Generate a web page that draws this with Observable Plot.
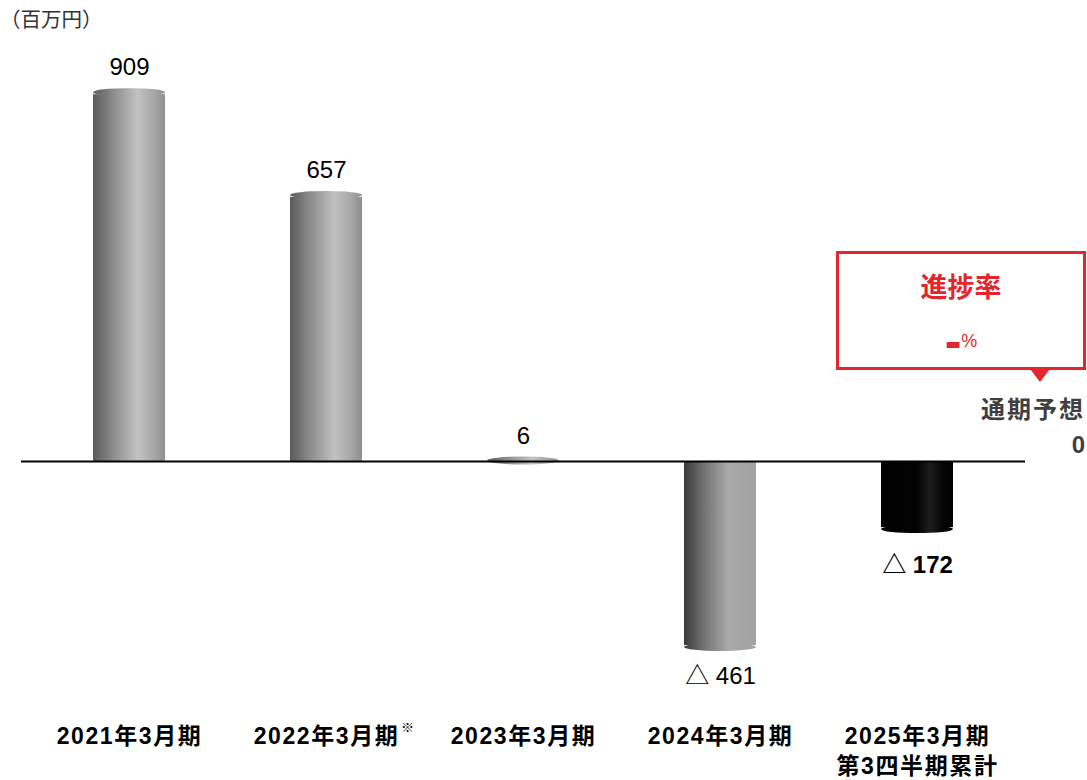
<!DOCTYPE html>
<html>
<head>
<meta charset="utf-8">
<script src="https://cdn.jsdelivr.net/npm/d3@7"></script>
<script src="https://cdn.jsdelivr.net/npm/@observablehq/plot@0.6"></script>
<style>
  html, body { margin: 0; padding: 0; background: #fff; overflow: hidden; }
  #wrap { position: relative; width: 1087px; height: 780px; }
  #wrap svg { display: block; }
  [aria-label="x-axis tick label"] text { letter-spacing: 1.6px; }
  .unit { position: absolute; left: 0px; top: 3px; font: 20.5px "Noto Sans CJK JP", sans-serif; color: #333; }
  .callout { position: absolute; left: 836px; top: 251px; width: 250px; height: 119px; box-sizing: border-box;
             border: 3px solid #e3262d; background: #fff; text-align: center; color: #e3262d; font-family: "Noto Sans CJK JP", sans-serif; }
  .callout .t1 { position: absolute; left: 0; right: 0; top: 18px; font-size: 27px; font-weight: bold; line-height: 1; }
  .callout .t2 { position: absolute; left: 0; right: 0; top: 58px; line-height: 1; }
  .callout .dash { font: bold 50px "Liberation Sans", sans-serif; vertical-align: middle; }
  .callout .pct { font: 18px "Liberation Sans", sans-serif; vertical-align: middle; }
  .pointer { position: absolute; left: 1030px; top: 369px; width: 0; height: 0;
             border-left: 10px solid transparent; border-right: 10px solid transparent; border-top: 13px solid #e3262d; }
  .forecast { position: absolute; right: 2px; top: 396px; text-align: right; font: bold 24px "Noto Sans CJK JP", sans-serif;
              color: #3f3f3f; letter-spacing: 2px; line-height: 1; }
  .forecast .val { position: absolute; right: -2px; top: 37px; font-family: "Liberation Sans", sans-serif; }
</style>
</head>
<body>
<div id="wrap"></div>
<script>
// ---- data ----
const periods = ["2021年3月期", "2022年3月期", "2023年3月期", "2024年3月期", "2025年3月期\n第3四半期累計"];
const profits = [909, 657, 6, -461, -172];
const unitLabel = "（百万円）";
const noteMark = "※";
const progressTitle = "進捗率";
const forecastTitle = "通期予想";
const forecastValue = 0;

const data = periods.map((p, i) => ({period: p, value: profits[i], current: i === periods.length - 1}));
const past = data.filter(d => !d.current);
const pastPos = past.filter(d => d.value >= 0);
const pastNeg = past.filter(d => d.value < 0);
const cur = data.filter(d => d.current);
const fmt = v => v < 0 ? "△ " + Math.abs(v) : String(v);

const plot = Plot.plot({
  width: 1087,
  height: 780,
  marginTop: 20,
  marginBottom: 80,
  marginLeft: 21,
  marginRight: 62,
  style: {fontFamily: "'Liberation Sans', 'Noto Sans CJK JP', sans-serif", fontSize: "24px", color: "#000", background: "transparent"},
  x: {domain: periods, paddingInner: 0.633, paddingOuter: 0.358, axis: null, label: null},
  y: {domain: [-586, 1081], axis: null},
  marks: [
    // bar bodies
    Plot.barY(pastPos, {x: "period", y: "value", fill: "url(#gPos)", insetTop: 4}),
    Plot.barY(pastNeg, {x: "period", y: "value", fill: "url(#gNeg)", insetBottom: 4}),
    Plot.barY(cur, {x: "period", y: "value", fill: "url(#gCur)", insetBottom: 4}),
    // elliptical cylinder ends
    Plot.barY(pastPos, {x: "period", y1: "value", y2: "value", fill: "url(#gPos)", insetTop: -2, insetBottom: -6, rx: 36, ry: 4}),
    Plot.barY(pastNeg, {x: "period", y1: "value", y2: "value", fill: "url(#gNeg)", insetTop: -6, insetBottom: -2, rx: 36, ry: 4}),
    Plot.barY(cur, {x: "period", y1: "value", y2: "value", fill: "url(#gCur)", insetTop: -6, insetBottom: -2, rx: 36, ry: 4}),
    // baseline
    Plot.ruleY([0], {stroke: "#000", strokeWidth: 2}),
    // value labels
    Plot.text(pastPos, {x: "period", y: "value", text: d => fmt(d.value), dy: -23, fontSize: 24}),
    Plot.text(pastNeg, {x: "period", y: "value", text: d => fmt(d.value), dy: 27, fontSize: 24}),
    Plot.text(cur, {x: "period", y: "value", text: d => fmt(d.value), dy: 34, fontSize: 24, fontWeight: "bold"}),
    // category axis
    Plot.axisX({anchor: "bottom", label: null, tickSize: 0, tickPadding: 22, fontSize: 23, fontWeight: "bold", lineHeight: 1.3,
                fontFamily: "'Liberation Sans', 'Noto Sans CJK JP', sans-serif"}),
    Plot.text([periods[1]], {x: d => d, frameAnchor: "bottom", dx: 81, dy: 31, text: () => noteMark, fontSize: 13})
  ]
});

const svg = d3.select(plot.tagName.toLowerCase() === "svg" ? plot : plot.querySelector("svg"));
const defs = svg.insert("defs", ":first-child");
function grad(id, stops) {
  const g = defs.append("linearGradient").attr("id", id).attr("x1", 0).attr("x2", 1).attr("y1", 0).attr("y2", 0);
  stops.forEach(([o, c]) => g.append("stop").attr("offset", o).attr("stop-color", c));
}
grad("gPos", [[0, "#5a5a5a"], [0.3, "#8f8f8f"], [0.62, "#c2c2c2"], [0.85, "#a6a6a6"], [1, "#8e8e8e"]]);
grad("gNeg", [[0, "#3a3a3a"], [0.3, "#777"], [0.62, "#aaa"], [1, "#a2a2a2"]]);
grad("gCur", [[0, "#000"], [0.5, "#030303"], [0.68, "#1d1d1d"], [0.85, "#060606"], [1, "#000"]]);

const wrap = document.getElementById("wrap");
wrap.appendChild(plot);

const unit = document.createElement("div");
unit.className = "unit"; unit.textContent = unitLabel; wrap.appendChild(unit);

const callout = document.createElement("div");
callout.className = "callout";
callout.innerHTML = `<div class="t1"></div><div class="t2"><span class="dash">-</span><span class="pct">%</span></div>`;
callout.querySelector(".t1").textContent = progressTitle;
wrap.appendChild(callout);
const pointer = document.createElement("div");
pointer.className = "pointer"; wrap.appendChild(pointer);

const fc = document.createElement("div");
fc.className = "forecast";
fc.innerHTML = `<span class="ttl"></span><span class="val"></span>`;
fc.querySelector(".ttl").textContent = forecastTitle;
fc.querySelector(".val").textContent = String(forecastValue);
wrap.appendChild(fc);
</script>
</body>
</html>
